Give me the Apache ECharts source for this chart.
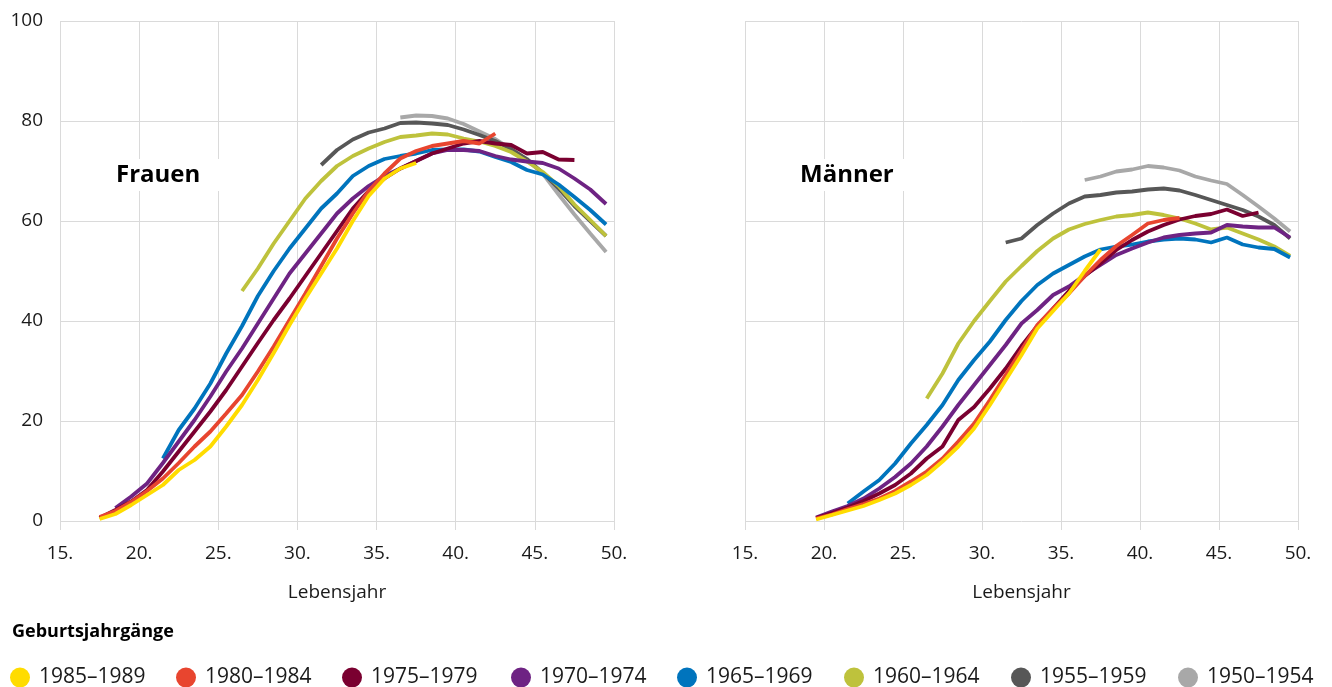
<!DOCTYPE html>
<html>
<head>
<meta charset="utf-8">
<script src="https://cdn.jsdelivr.net/npm/echarts@6/dist/echarts.min.js"></script>
<style>
html,body{margin:0;padding:0;background:#fff;}
#chart{width:1332px;height:687px;}
</style>
</head>
<body>
<div id="chart"></div>
<script>
// Ages (Lebensjahr), midpoints
const ages = [17.5,18.5,19.5,20.5,21.5,22.5,23.5,24.5,25.5,26.5,27.5,28.5,29.5,30.5,31.5,32.5,33.5,34.5,35.5,36.5,37.5,38.5,39.5,40.5,41.5,42.5,43.5,44.5,45.5,46.5,47.5,48.5,49.5];

const cohorts = ['1985–1989','1980–1984','1975–1979','1970–1974','1965–1969','1960–1964','1955–1959','1950–1954'];
const colors = ['#FFDC00','#E8452F','#7A0030','#6E2383','#0074BD','#BEC23C','#575757','#A8A8A8'];

const xTicks = [15,20,25,30,35,40,45,50];
const yTicks = [0,20,40,60,80,100];

// Frauen
const f1985 = [0.4,1.4,3.2,5.2,7.2,10.2,12.2,14.9,18.9,23.2,28.2,33.6,39.2,44.5,49.5,54.5,60,65,68.5,70.5,71.6,null,null,null,null,null,null,null,null,null,null,null,null];
const f1980 = [0.8,2,3.8,6,8.5,11.6,14.9,17.9,21.5,25.2,29.9,34.9,40.2,45.5,51,56.5,61.5,66,69.5,72.5,74,75,75.5,76,75.5,77.5,null,null,null,null,null,null,null];
const f1975 = [0.6,2.2,3.9,6.2,9.9,13.9,17.9,21.9,26.2,30.9,35.6,40.2,44.5,49,53.5,58,62.5,66,68.5,70.5,72,73.5,74.5,75.5,76,75.5,75.2,73.5,73.8,72.3,72.2,null,null];
const f1970 = [null,2.6,4.9,7.5,11.6,15.9,20.2,24.9,29.9,34.5,39.5,44.5,49.5,53.5,57.5,61.5,64.5,67,69,70.5,72,73.5,74.2,74.2,74,73,72.3,71.9,71.6,70.5,68.5,66.3,63.4];
const f1965 = [null,null,null,null,12.5,18.2,22.5,27.5,33.5,39,45,50,54.5,58.5,62.5,65.5,69,71,72.4,73,73.5,74.2,74.3,74.3,73.9,72.8,71.8,70.2,69.3,67.3,64.8,62.2,59.3];
const f1960 = [null,null,null,null,null,null,null,null,null,46,50.5,55.5,60,64.5,68,71,73,74.5,75.8,76.8,77.1,77.5,77.3,76.5,75.9,75,73.8,71.9,69.8,67,63.3,60.2,57];
const f1955 = [null,null,null,null,null,null,null,null,null,null,null,null,null,null,71.2,74.2,76.3,77.7,78.5,79.6,79.7,79.5,79.2,78.3,77.2,76,74.4,72.4,69.6,66.5,63,60,57];
const f1950 = [null,null,null,null,null,null,null,null,null,null,null,null,null,null,null,null,null,null,null,80.7,81.1,81,80.5,79.4,77.9,76.4,74.4,72.2,69.5,65.3,61.3,57.5,53.8];

// Männer
const m1985 = [null,null,0.3,1.2,2.1,3,4.2,5.5,7.2,9.2,11.9,14.9,18.5,23.2,28.2,33.2,38.5,42,45.5,50,54.3,null,null,null,null,null,null,null,null,null,null,null,null];
const m1980 = [null,null,0.5,1.3,2.4,3.4,4.5,6,7.9,9.9,12.5,15.9,19.5,24.2,29.2,34.2,39.2,42.5,45.5,49,52.2,55,57.2,59.5,60.2,60.6,null,null,null,null,null,null,null];
const m1975 = [null,null,0.6,1.6,2.7,4,5.5,7.2,9.5,12.5,14.9,20.2,22.8,26.5,30.5,35,39,42.5,46,49,51.5,54.2,56.2,57.9,59.2,60.3,61,61.4,62.3,61,61.7,null,null];
const m1970 = [null,null,0.7,1.9,3,4.5,6.5,8.8,11.5,14.9,18.9,23.2,27.2,31.2,35.2,39.5,42.2,45.2,46.9,49.2,51.2,53.2,54.5,55.7,56.7,57.2,57.5,57.7,59.2,58.9,58.7,58.7,56.7];
const m1965 = [null,null,null,null,3.5,5.9,8.2,11.5,15.5,19.2,23.2,28.2,32.2,35.9,40.2,44,47.2,49.5,51.2,52.9,54.3,54.9,55.3,55.9,56.3,56.5,56.3,55.7,56.7,55.3,54.7,54.4,52.7];
const m1960 = [null,null,null,null,null,null,null,null,null,24.5,29.5,35.5,40,44,47.9,51,54,56.5,58.3,59.4,60.2,60.9,61.2,61.7,61.2,60.5,59.5,58.3,58.7,57.5,56.3,54.9,53];
const m1955 = [null,null,null,null,null,null,null,null,null,null,null,null,null,null,55.7,56.5,59.2,61.5,63.5,64.9,65.2,65.7,65.9,66.3,66.5,66.1,65.2,64.2,63.2,62.2,60.9,59.2,56.5];
const m1950 = [null,null,null,null,null,null,null,null,null,null,null,null,null,null,null,null,null,null,null,68.2,68.9,69.9,70.3,71,70.7,70.1,68.9,68.1,67.4,65.2,62.9,60.5,57.9];

const frauen = [f1985,f1980,f1975,f1970,f1965,f1960,f1955,f1950];
const maenner = [m1985,m1980,m1975,m1970,m1965,m1960,m1955,m1950];

const FONT = '"Open Sans", "Noto Sans", sans-serif';
const gridColor = '#dadada';

function pairs(vals){ return ages.map((a,i)=>[a, vals[i]]); }

function makeX(idx){
  return {
    type:'value', gridIndex:idx, min:15, max:50, interval:5,
    name:'Lebensjahr', nameLocation:'middle', nameGap:62,
    nameTextStyle:{fontFamily:FONT,fontSize:19,color:'#1a1a1a'},
    axisLine:{show:false},
    axisTick:{show:true,length:9,lineStyle:{color:gridColor,width:1}},
    axisLabel:{formatter:'{value}.',fontFamily:FONT,fontSize:19,color:'#1a1a1a',margin:23},
    splitLine:{show:true,lineStyle:{color:gridColor,width:1}}
  };
}
function makeY(idx, showLabels){
  return {
    type:'value', gridIndex:idx, min:0, max:100, interval:20,
    axisLine:{show:false}, axisTick:{show:false},
    axisLabel:{show:showLabels,fontFamily:FONT,fontSize:19,color:'#1a1a1a',margin:17},
    splitLine:{show:true,lineStyle:{color:gridColor,width:1}}
  };
}

const series = [];
for (let k = cohorts.length-1; k >= 0; k--) {
  series.push({name:cohorts[k], type:'line', xAxisIndex:0, yAxisIndex:0, data:pairs(frauen[k]),
    showSymbol:false, symbol:'circle', connectNulls:false, smooth:false,
    lineStyle:{width:3.8,color:colors[k]}, itemStyle:{color:colors[k]}});
  series.push({name:cohorts[k], type:'line', xAxisIndex:1, yAxisIndex:1, data:pairs(maenner[k]),
    showSymbol:false, symbol:'circle', connectNulls:false, smooth:false,
    lineStyle:{width:3.8,color:colors[k]}, itemStyle:{color:colors[k]}});
}

const legendLefts = [10,176,342,511,677,844,1011,1178];
const legends = cohorts.map((c,i)=>({
  data:[c], left:legendLefts[i], top:667, padding:0, orient:'horizontal',
  icon:'circle', itemWidth:26, itemHeight:20, itemGap:0, selectedMode:false,
  textStyle:{fontFamily:FONT,fontSize:21,color:'#1a1a1a',padding:[0,0,0,1]}
}));

const option = {
  animation:false,
  backgroundColor:'#fff',
  color:colors,
  title:[
    {text:'Frauen', left:100, top:159, padding:[4,24,4,16], backgroundColor:'#fff',
      textStyle:{fontFamily:FONT,fontSize:24,fontWeight:'bold',color:'#000'}},
    {text:'Männer', left:784, top:159, padding:[4,24,4,16], backgroundColor:'#fff',
      textStyle:{fontFamily:FONT,fontSize:24,fontWeight:'bold',color:'#000'}},
    {text:'Geburtsjahrgänge', left:12, top:623, padding:0,
      textStyle:{fontFamily:FONT,fontSize:18,fontWeight:'bold',color:'#000'}}
  ],
  legend:legends,
  grid:[
    {left:60, right:718, top:21, bottom:166, containLabel:false},
    {left:745, right:34, top:21, bottom:166, containLabel:false}
  ],
  xAxis:[makeX(0), makeX(1)],
  yAxis:[makeY(0,true), makeY(1,false)],
  series:series
};

const chart = echarts.init(document.getElementById('chart'), null, {renderer:'canvas'});
chart.setOption(option);
</script>
</body>
</html>
